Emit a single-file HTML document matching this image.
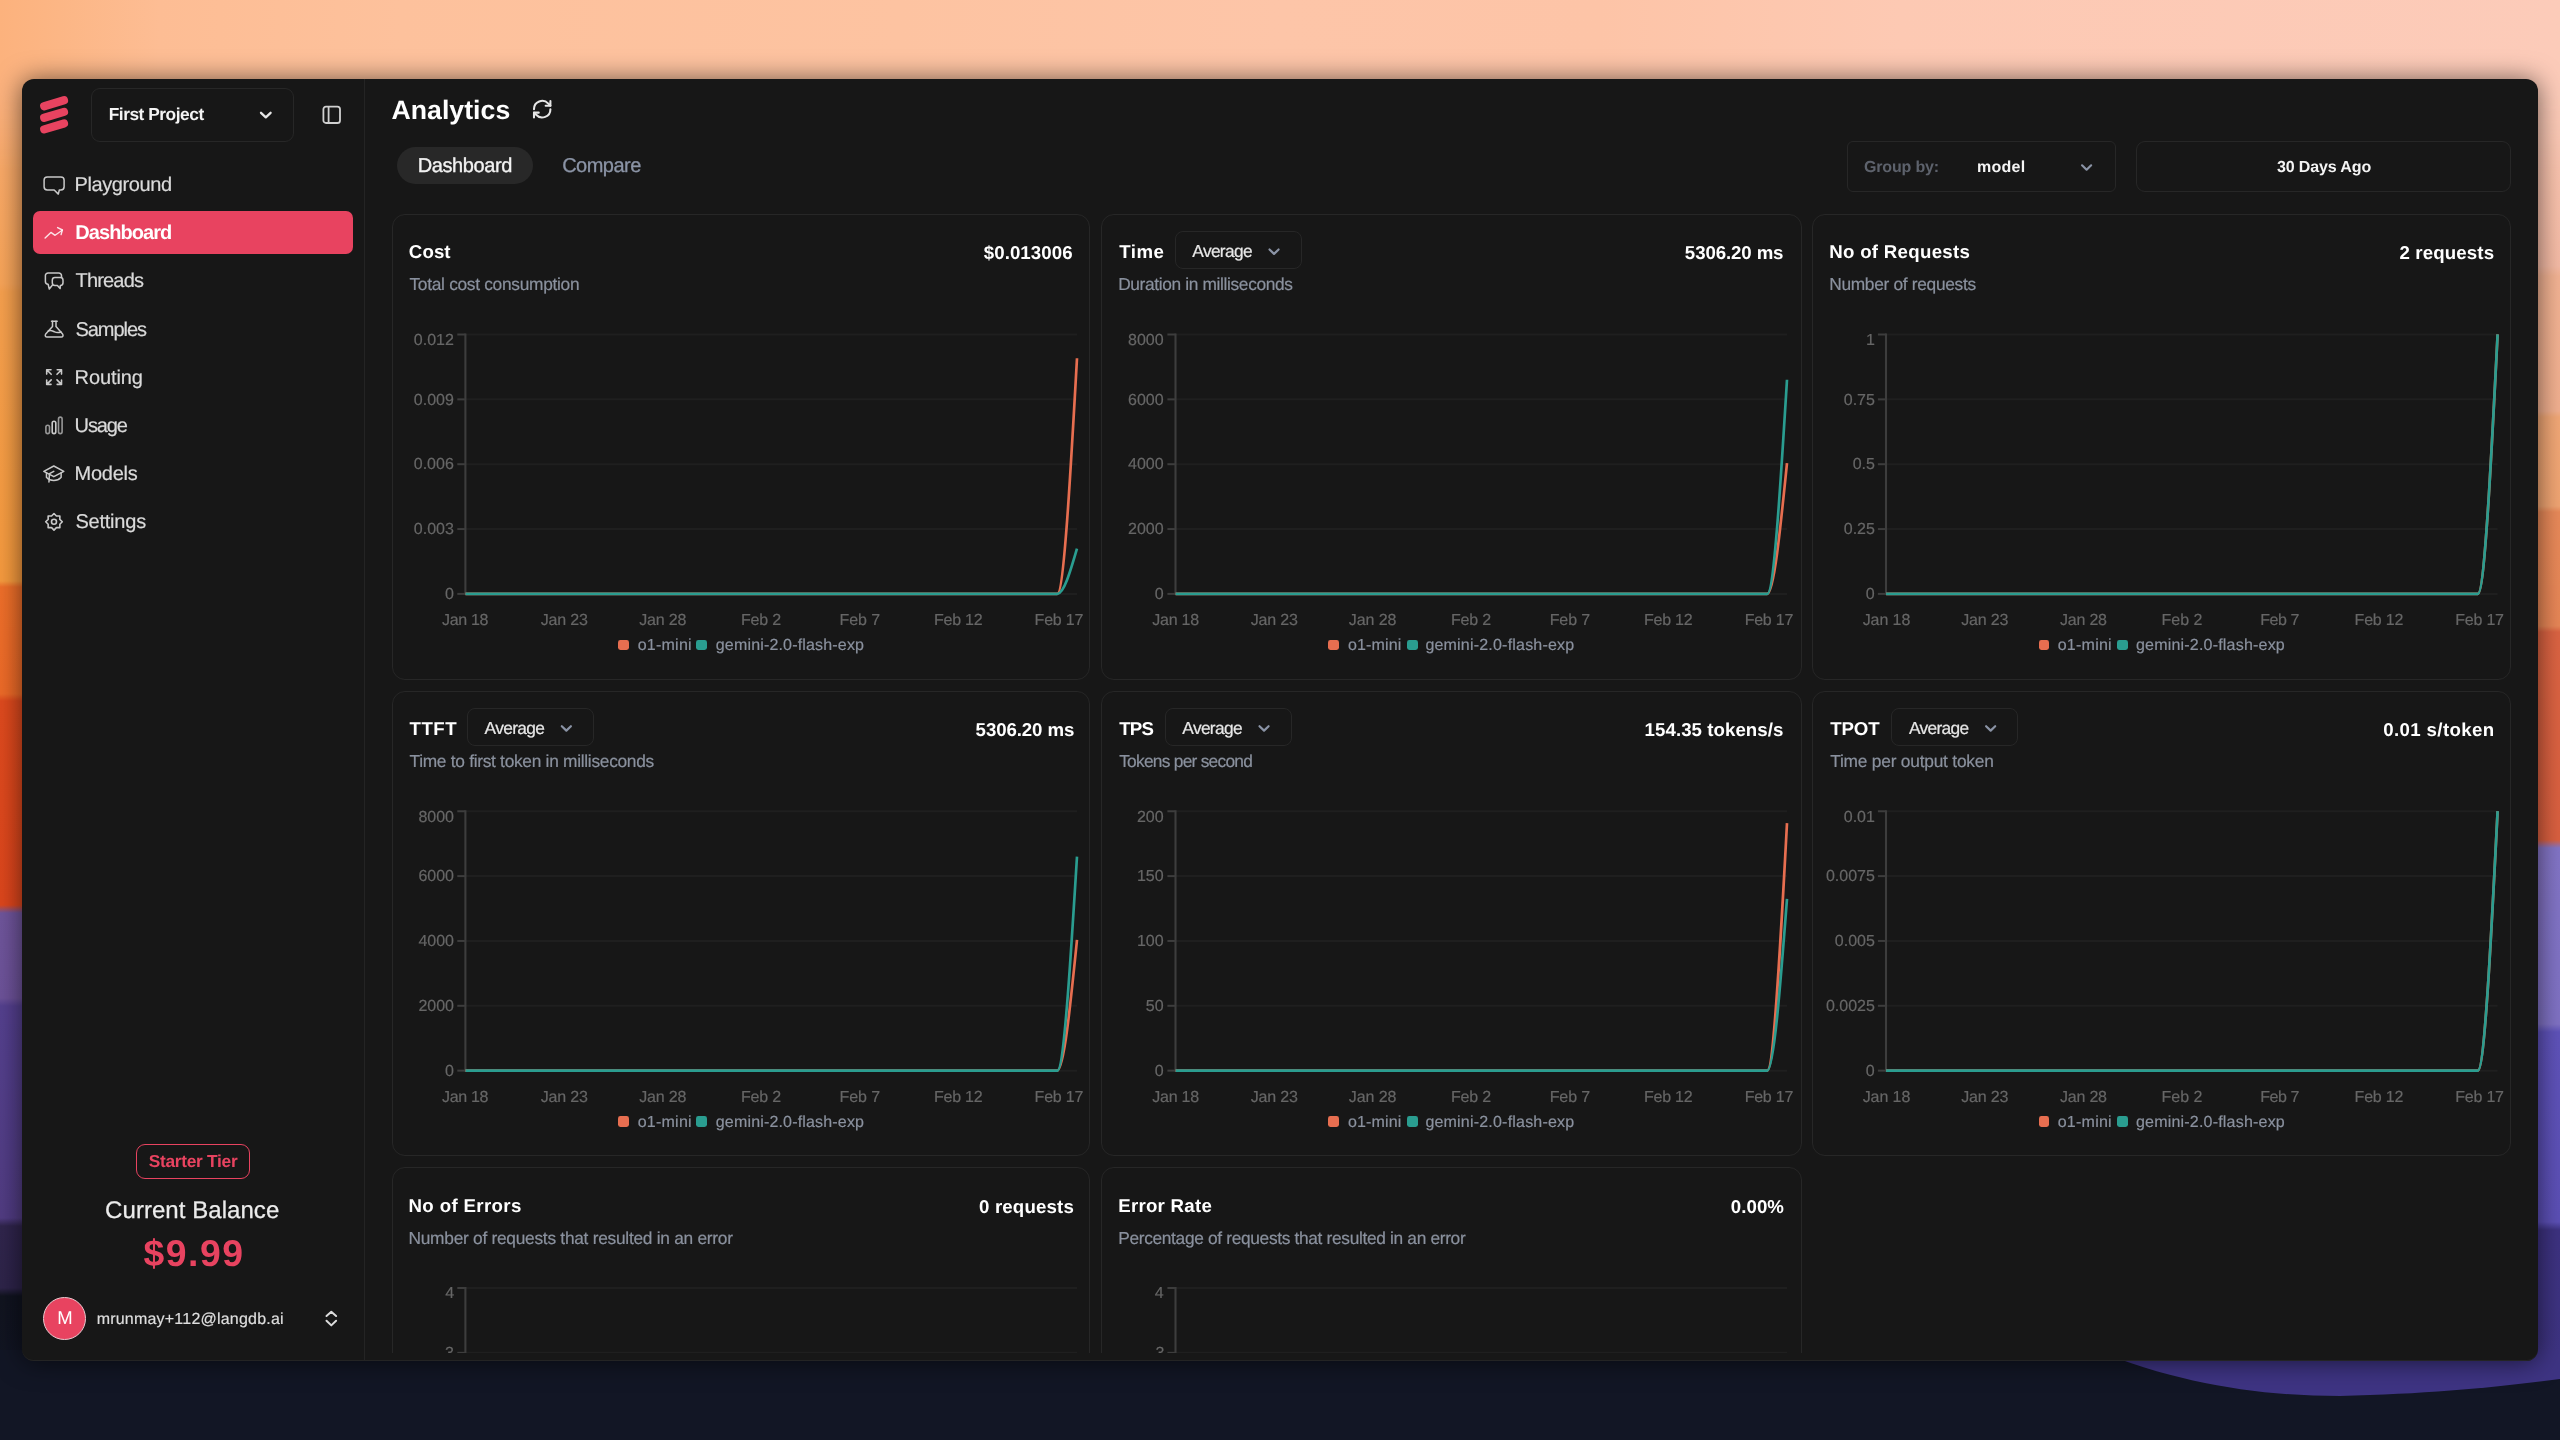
<!DOCTYPE html>
<html lang="en"><head><meta charset="utf-8"><title>Analytics</title>
<style>
html,body{margin:0;padding:0;}
body{width:2560px;height:1440px;overflow:hidden;position:relative;background:#11141f;font-family:"Liberation Sans", sans-serif;}
.wall{position:absolute;left:0;top:0;}
.win{position:absolute;left:22px;top:79px;width:2516px;height:1281.5px;background:#171717;border-radius:12px;
  box-shadow:0 1px 26px 0 rgba(0,0,0,0.58);}
.winb{position:absolute;left:22px;top:79px;width:2516px;height:1281.5px;border-radius:12px;box-sizing:border-box;border-bottom:1px solid #242424;pointer-events:none;}
.sidebar-line{position:absolute;left:363.6px;top:79px;width:1.3px;height:1281px;background:#242424;}
.t{position:absolute;white-space:nowrap;font-family:"Liberation Sans", sans-serif;text-rendering:geometricPrecision;}
aside,header,main{will-change:transform;}
.ic{position:absolute;overflow:visible;}
.box{position:absolute;box-sizing:border-box;border:1.3px solid #272727;}
.card{position:absolute;box-sizing:border-box;border:1.3px solid #272727;border-radius:13px;}
.navact{position:absolute;background:#e84360;border-radius:7px;}
.tabact{position:absolute;background:#282828;border-radius:19px;}
.badge{position:absolute;box-sizing:border-box;border:1.4px solid #e84360;border-radius:9px;}
.avatar{position:absolute;box-sizing:border-box;background:#e84360;border:1.4px solid #e9c9cf;border-radius:50%;}
.lg{position:absolute;width:10.8px;height:10.8px;border-radius:2.4px;}
.clip{position:absolute;left:0;top:0;width:2560px;height:1353.4px;overflow:hidden;}
</style></head>
<body>
<svg class="wall" width="2560" height="1440" viewBox="0 0 2560 1440">
<defs>
<linearGradient id="gL" x1="0" y1="0" x2="0" y2="1"><stop offset="0.0000" stop-color="#fcb280"/><stop offset="0.0417" stop-color="#fbae76"/><stop offset="0.1972" stop-color="#f7a458"/><stop offset="0.2028" stop-color="#f6a04e"/><stop offset="0.4035" stop-color="#f59a3e"/><stop offset="0.4076" stop-color="#ee6f2a"/><stop offset="0.4819" stop-color="#ec6a28"/><stop offset="0.4868" stop-color="#de4a1e"/><stop offset="0.6285" stop-color="#dc461c"/><stop offset="0.6340" stop-color="#6f559b"/><stop offset="0.6931" stop-color="#6c5298"/><stop offset="0.6986" stop-color="#54408e"/><stop offset="0.8458" stop-color="#513c82"/><stop offset="0.8514" stop-color="#30254c"/><stop offset="0.8944" stop-color="#2e2449"/><stop offset="0.9000" stop-color="#11141f"/><stop offset="1.0000" stop-color="#121625"/></linearGradient>
<linearGradient id="gR" x1="0" y1="0" x2="0" y2="1"><stop offset="0.0000" stop-color="#fccab6"/><stop offset="0.0833" stop-color="#fbc7b2"/><stop offset="0.1847" stop-color="#f5bba6"/><stop offset="0.1917" stop-color="#f3b394"/><stop offset="0.2854" stop-color="#f2b090"/><stop offset="0.2896" stop-color="#f2a877"/><stop offset="0.3514" stop-color="#f1a573"/><stop offset="0.3556" stop-color="#e98a5a"/><stop offset="0.4347" stop-color="#e88757"/><stop offset="0.4389" stop-color="#dc6443"/><stop offset="0.5833" stop-color="#da6040"/><stop offset="0.5889" stop-color="#8375c7"/><stop offset="0.7111" stop-color="#8072c4"/><stop offset="0.7167" stop-color="#5f53ba"/><stop offset="0.8486" stop-color="#5c50b6"/><stop offset="0.8542" stop-color="#3d3281"/><stop offset="0.9556" stop-color="#3e3483"/><stop offset="0.9611" stop-color="#131827"/><stop offset="1.0000" stop-color="#131827"/></linearGradient>
<linearGradient id="gM" x1="0" y1="0" x2="1" y2="0"><stop offset="0" stop-color="#fff" stop-opacity="0"/><stop offset="1" stop-color="#fff" stop-opacity="1"/></linearGradient>
<mask id="mk"><rect width="2560" height="1440" fill="url(#gM)"/></mask>
<linearGradient id="gT" x1="0" y1="0" x2="1" y2="0"><stop offset="0.0000" stop-color="#fcb27d"/><stop offset="0.0234" stop-color="#fcb685"/><stop offset="0.0625" stop-color="#fdbd94"/><stop offset="0.1562" stop-color="#fdc19c"/><stop offset="0.3516" stop-color="#fdc3a1"/><stop offset="0.5000" stop-color="#fdc5a8"/><stop offset="0.6250" stop-color="#fdc4a7"/><stop offset="0.7422" stop-color="#fdc9b3"/><stop offset="1.0000" stop-color="#fccbb9"/></linearGradient>
<linearGradient id="gTm" x1="0" y1="0" x2="0" y2="1"><stop offset="0" stop-color="#fff" stop-opacity="1"/><stop offset="0.55" stop-color="#fff" stop-opacity="1"/><stop offset="1" stop-color="#fff" stop-opacity="0"/></linearGradient>
<mask id="mt"><rect width="2560" height="170" fill="url(#gTm)"/></mask>
</defs>
<rect width="2560" height="1440" fill="url(#gL)"/>
<rect width="2560" height="1440" fill="url(#gR)" mask="url(#mk)"/>
<rect width="2560" height="170" fill="url(#gT)" mask="url(#mt)"/>
<rect x="0" y="1350" width="2560" height="90" fill="#121625"/>
<path d="M2095,1350 C2180,1384 2260,1396 2340,1396 C2430,1394 2500,1387 2560,1379 L2560,1350 Z" fill="#3e3483"/>
</svg>
<div class="win"></div><div class="winb"></div>
<div class="sidebar-line"></div>
<aside><svg class="ic" style="left:0;top:0" width="120" height="160" stroke="#e84360" stroke-width="8.2" stroke-linecap="round"><line x1="44.2" y1="106.2" x2="64" y2="100.3"/><line x1="44.2" y1="117.8" x2="64" y2="111.9"/><line x1="44.2" y1="129.4" x2="64" y2="123.5"/></svg>
<div class="box" style="left:91.35px;top:87.55px;width:202.6px;height:54.1px;border-radius:9px"></div>
<span class="t" style="left:108.70px;top:106px;font-size:17.33px;line-height:17.33px;color:#f4f4f4;font-weight:bold;letter-spacing:-0.470px;">First Project</span>
<svg class="ic" style="left:0;top:0" width="2560" height="1440" fill="none" stroke="#e6e6e6" stroke-width="2.3" stroke-linecap="round" stroke-linejoin="round"><path d="M261.00 112.80 L265.80 117.30 L270.60 112.80"/></svg>
<svg class="ic" style="left:321px;top:104px" width="22" height="22" fill="none" stroke="#d0d0d0" stroke-width="1.8"><rect x="2.4" y="2.6" width="16.6" height="16.4" rx="2.6"/><line x1="7.6" y1="2.6" x2="7.6" y2="19"/></svg>
<div class="navact" style="left:32.5px;top:211px;width:320px;height:43.3px"></div>
<span class="t" style="left:74.60px;top:175px;font-size:20px;line-height:20px;color:#dadada;letter-spacing:-0.407px;-webkit-text-stroke:0.2px #dadada;">Playground</span>
<svg class="ic" style="left:0;top:0" width="400" height="600" fill="none" stroke="#c9c9c9" stroke-width="1.5" stroke-linecap="round" stroke-linejoin="round"><path d="M47.3 176.9 H60.9 A3.2 3.2 0 0 1 64.1 180.1 V186.8 A3.2 3.2 0 0 1 60.9 190 H59.3 L58.3 194.1 L54.2 190 H47.3 A3.2 3.2 0 0 1 44.1 186.8 V180.1 A3.2 3.2 0 0 1 47.3 176.9 Z"/></svg>
<span class="t" style="left:75.30px;top:223px;font-size:20px;line-height:20px;color:#ffffff;font-weight:bold;letter-spacing:-0.931px;">Dashboard</span>
<svg class="ic" style="left:0;top:0" width="400" height="600" fill="none" stroke="#ffffff" stroke-width="1.4" stroke-linecap="round" stroke-linejoin="round"><g stroke-opacity="0.85"><path d="M45.1 238 L50.9 232.4 L55.1 235.3 L62.2 230.2"/><path d="M57.6 227.6 L62.4 230 L61.1 234.6"/></g></svg>
<span class="t" style="left:75.49px;top:271px;font-size:20px;line-height:20px;color:#dadada;letter-spacing:-0.817px;-webkit-text-stroke:0.2px #dadada;">Threads</span>
<svg class="ic" style="left:0;top:0" width="400" height="600" fill="none" stroke="#c9c9c9" stroke-width="1.5" stroke-linecap="round" stroke-linejoin="round"><path d="M61.5 277.2 V275.6 A2.7 2.7 0 0 0 58.8 272.9 H48.1 A2.7 2.7 0 0 0 45.4 275.6 V281.6 A2.7 2.7 0 0 0 48.1 284.3 L49.3 289 L52.5 285"/><path d="M54.9 277.6 H60.4 A2.6 2.6 0 0 1 63 280.2 V282.8 A2.6 2.6 0 0 1 60.4 285.4 L60.1 288.6 L57.4 285.4 H54.9 A2.6 2.6 0 0 1 52.3 282.8 V280.2 A2.6 2.6 0 0 1 54.9 277.6 Z"/></svg>
<span class="t" style="left:75.43px;top:320px;font-size:20px;line-height:20px;color:#dadada;letter-spacing:-1.040px;-webkit-text-stroke:0.2px #dadada;">Samples</span>
<svg class="ic" style="left:0;top:0" width="400" height="600" fill="none" stroke="#c9c9c9" stroke-width="1.5" stroke-linecap="round" stroke-linejoin="round"><path d="M51.5 321.2 H57.2"/><path d="M52.5 321.2 V326.5 L45.7 334.1 C44.7 335.4 45.5 337.1 47 337.1 H61.3 C62.800 337.100 63.600 335.400 62.600 334.100 L56 326.500 V321.200"/><path d="M48.3 331 C50.600 329.700 52.600 331 54.600 331.900 S58.700 332.700 61.100 332"/></svg>
<span class="t" style="left:74.60px;top:368px;font-size:20px;line-height:20px;color:#dadada;letter-spacing:-0.102px;-webkit-text-stroke:0.2px #dadada;">Routing</span>
<svg class="ic" style="left:0;top:0" width="400" height="600" fill="none" stroke="#c9c9c9" stroke-width="1.6" stroke-linecap="round" stroke-linejoin="round"><path d="M51.0 369.8 H46.7 V374.1 M46.7 369.8 L51.2 374.3"/><path d="M46.7 369.8 L48.6 369.8 L46.7 371.7 Z" fill="#c9c9c9" stroke="none"/><path d="M57.2 369.8 H61.5 V374.1 M61.5 369.8 L57.0 374.3"/><path d="M61.5 369.8 L59.6 369.8 L61.5 371.7 Z" fill="#c9c9c9" stroke="none"/><path d="M51.0 384.4 H46.7 V380.1 M46.7 384.4 L51.2 379.9"/><path d="M46.7 384.4 L48.6 384.4 L46.7 382.5 Z" fill="#c9c9c9" stroke="none"/><path d="M57.2 384.4 H61.5 V380.1 M61.5 384.4 L57.0 379.9"/><path d="M61.5 384.4 L59.6 384.4 L61.5 382.5 Z" fill="#c9c9c9" stroke="none"/></svg>
<span class="t" style="left:74.60px;top:416px;font-size:20px;line-height:20px;color:#dadada;letter-spacing:-1.162px;-webkit-text-stroke:0.2px #dadada;">Usage</span>
<svg class="ic" style="left:0;top:0" width="400" height="600" fill="none" stroke="#c9c9c9" stroke-width="1.6" stroke-linecap="round" stroke-linejoin="round"><rect x="45.9" y="425.2" width="3.600" height="8.4" rx="1.800" stroke-opacity="0.72"/><rect x="52.2" y="421.2" width="3.600" height="12.4" rx="1.800" stroke-opacity="1.0"/><rect x="58.5" y="417.1" width="3.600" height="16.5" rx="1.800" stroke-opacity="0.72"/></svg>
<span class="t" style="left:74.60px;top:464px;font-size:20px;line-height:20px;color:#dadada;letter-spacing:-0.281px;-webkit-text-stroke:0.2px #dadada;">Models</span>
<svg class="ic" style="left:0;top:0" width="400" height="600" fill="none" stroke="#c9c9c9" stroke-width="1.5" stroke-linecap="round" stroke-linejoin="round"><g transform="translate(43.13 463.3) scale(0.08333)" stroke-width="18"><polygon points="8 96 128 32 248 96 128 160 8 96"/><polyline points="128 96 76 124 70 224"/><path d="M216 113v53a8 8 0 0 1-2 5.300c-11.300 12.600-38.900 36.400-86 36.400s-74.700-23.800-86-36.400a8 8 0 0 1-2-5.300v-53"/></g></svg>
<span class="t" style="left:75.43px;top:512px;font-size:20px;line-height:20px;color:#dadada;letter-spacing:-0.222px;-webkit-text-stroke:0.2px #dadada;">Settings</span>
<svg class="ic" style="left:0;top:0" width="400" height="600" fill="none" stroke="#c9c9c9" stroke-width="1.6" stroke-linecap="round" stroke-linejoin="round"><path d="M54.00 513.50 L56.41 515.98 L59.87 515.93 L59.82 519.39 L62.30 521.80 L59.82 524.21 L59.87 527.67 L56.41 527.62 L54.00 530.10 L51.59 527.62 L48.13 527.67 L48.18 524.21 L45.70 521.80 L48.18 519.39 L48.13 515.93 L51.59 515.98Z" stroke-linejoin="round"/><circle cx="54" cy="521.8" r="2.500"/></svg>
<div class="badge" style="left:135.6px;top:1144.2px;width:114.4px;height:34.9px"></div>
<span class="t" style="left:148.70px;top:1153px;font-size:17.33px;line-height:17.33px;color:#e84360;font-weight:bold;letter-spacing:-0.288px;">Starter Tier</span>
<span class="t" style="left:105.10px;top:1199px;font-size:24px;line-height:24px;color:#ececec;letter-spacing:0.052px;-webkit-text-stroke:0.25px #ececec;">Current Balance</span>
<span class="t" style="left:143.44px;top:1235px;font-size:37.33px;line-height:37.33px;color:#e84360;font-weight:bold;letter-spacing:1.519px;">$9.99</span>
<div class="avatar" style="left:43.3px;top:1297px;width:42.8px;height:42.8px"></div>
<span class="t" style="left:57.37px;top:1309px;font-size:18.5px;line-height:18.5px;color:#fff;">M</span>
<span class="t" style="left:96.70px;top:1312px;font-size:16px;line-height:16px;color:#dedede;letter-spacing:0.207px;-webkit-text-stroke:0.2px #dedede;">mrunmay+112@langdb.ai</span>
<svg class="ic" style="left:0;top:0" width="2560" height="1440" fill="none" stroke="#dcdcdc" stroke-width="2.0" stroke-linecap="round" stroke-linejoin="round"><path d="M326.50 1316.00 L331.30 1311.80 L336.10 1316.00"/></svg>
<svg class="ic" style="left:0;top:0" width="2560" height="1440" fill="none" stroke="#dcdcdc" stroke-width="2.0" stroke-linecap="round" stroke-linejoin="round"><path d="M326.50 1320.80 L331.30 1325.40 L336.10 1320.80"/></svg></aside>
<header><span class="t" style="left:391.44px;top:97px;font-size:26.67px;line-height:26.67px;color:#ffffff;font-weight:bold;letter-spacing:0.034px;">Analytics</span>
<svg class="ic" style="left:531.2px;top:98.4px" width="22.4" height="22.4" viewBox="0 0 24 24" fill="none" stroke="#e6e6e6" stroke-width="2.2" stroke-linecap="round" stroke-linejoin="round"><path d="M3.200 12a8.800 8.800 0 0 1 15.300-6l2.300 2.300"/><path d="M20.800 3.200v5.100h-5.100"/><path d="M20.800 12a8.800 8.800 0 0 1-15.300 6l-2.300-2.300"/><path d="M3.200 20.800v-5.100h5.100"/></svg>
<div class="tabact" style="left:396.9px;top:146.9px;width:136.1px;height:37.5px"></div>
<span class="t" style="left:417.75px;top:156px;font-size:20px;line-height:20px;color:#f2f2f2;letter-spacing:-0.402px;-webkit-text-stroke:0.35px #f2f2f2;">Dashboard</span>
<span class="t" style="left:562.20px;top:156px;font-size:20px;line-height:20px;color:#8b94a6;letter-spacing:-0.522px;-webkit-text-stroke:0.3px #8b94a6;">Compare</span>
<div class="box" style="left:1846.85px;top:141.25px;width:268.8px;height:50.9px;border-radius:6px"></div>
<span class="t" style="left:1864.00px;top:160px;font-size:16px;line-height:16px;color:#5d626c;font-weight:bold;letter-spacing:-0.157px;">Group by:</span>
<span class="t" style="left:1977.10px;top:160px;font-size:16px;line-height:16px;color:#f4f4f4;font-weight:bold;letter-spacing:0.232px;">model</span>
<svg class="ic" style="left:0;top:0" width="2560" height="1440" fill="none" stroke="#8a93a5" stroke-width="2.2" stroke-linecap="round" stroke-linejoin="round"><path d="M2082.05 165.30 L2086.60 169.70 L2091.15 165.30"/></svg>
<div class="box" style="left:2135.6px;top:141.25px;width:375.55px;height:50.9px;border-radius:9px"></div>
<span class="t" style="left:2276.90px;top:160px;font-size:16px;line-height:16px;color:#f4f4f4;font-weight:bold;letter-spacing:-0.115px;">30 Days Ago</span></header>
<main class="clip"><div class="card" style="left:391.55px;top:213.85px;width:698.90px;height:465.8px"></div>
<span class="t" style="left:408.87px;top:243px;font-size:18.67px;line-height:18.67px;color:#ffffff;font-weight:bold;letter-spacing:0.085px;">Cost</span>
<span class="t" style="left:983.77px;top:244px;font-size:18.67px;line-height:18.67px;color:#ffffff;font-weight:bold;letter-spacing:0.073px;">$0.013006</span>
<span class="t" style="left:409.50px;top:276px;font-size:17.33px;line-height:17.33px;color:#8a919e;letter-spacing:-0.296px;-webkit-text-stroke:0.2px #8a919e;">Total cost consumption</span>
<svg class="ic" style="left:0;top:0" width="2560" height="1440"><line x1="465.50" y1="334.50" x2="1077.00" y2="334.50" stroke="#1f1f1f" stroke-width="2"/><line x1="457.30" y1="334.50" x2="465.50" y2="334.50" stroke="#3d3d3d" stroke-width="2"/><line x1="465.50" y1="399.35" x2="1077.00" y2="399.35" stroke="#1f1f1f" stroke-width="2"/><line x1="457.30" y1="399.35" x2="465.50" y2="399.35" stroke="#3d3d3d" stroke-width="2"/><line x1="465.50" y1="464.20" x2="1077.00" y2="464.20" stroke="#1f1f1f" stroke-width="2"/><line x1="457.30" y1="464.20" x2="465.50" y2="464.20" stroke="#3d3d3d" stroke-width="2"/><line x1="465.50" y1="529.05" x2="1077.00" y2="529.05" stroke="#1f1f1f" stroke-width="2"/><line x1="457.30" y1="529.05" x2="465.50" y2="529.05" stroke="#3d3d3d" stroke-width="2"/><line x1="465.50" y1="593.90" x2="1077.00" y2="593.90" stroke="#1f1f1f" stroke-width="2"/><line x1="457.30" y1="593.90" x2="465.50" y2="593.90" stroke="#3d3d3d" stroke-width="2"/><line x1="465.40" y1="333.50" x2="465.40" y2="594.90" stroke="#3d3d3d" stroke-width="2.1"/><path d="M465.50 593.80 L1057.27 593.80 C1063.85 593.80 1070.42 476.03 1077.00 358.26" fill="none" stroke="#e76e50" stroke-width="2.67" stroke-linejoin="round"/><path d="M465.50 593.80 L1057.27 593.80 C1063.85 593.80 1070.42 571.17 1077.00 548.53" fill="none" stroke="#2a9d90" stroke-width="2.67" stroke-linejoin="round"/></svg>
<span class="t tick" style="left:413.83px;top:333px;font-size:16px;line-height:16px;color:#666666;-webkit-text-stroke:0.2px #666666;">0.012</span>
<span class="t tick" style="left:413.83px;top:393px;font-size:16px;line-height:16px;color:#666666;-webkit-text-stroke:0.2px #666666;">0.009</span>
<span class="t tick" style="left:413.78px;top:457px;font-size:16px;line-height:16px;color:#666666;-webkit-text-stroke:0.2px #666666;">0.006</span>
<span class="t tick" style="left:413.82px;top:522px;font-size:16px;line-height:16px;color:#666666;-webkit-text-stroke:0.2px #666666;">0.003</span>
<span class="t tick" style="left:445.07px;top:587px;font-size:16px;line-height:16px;color:#666666;-webkit-text-stroke:0.2px #666666;">0</span>
<span class="t tick" style="left:442.10px;top:613px;font-size:16px;line-height:16px;color:#666666;letter-spacing:-0.348px;-webkit-text-stroke:0.2px #666666;">Jan 18</span>
<span class="t tick" style="left:540.68px;top:613px;font-size:16px;line-height:16px;color:#666666;letter-spacing:-0.184px;-webkit-text-stroke:0.2px #666666;">Jan 23</span>
<span class="t tick" style="left:639.31px;top:613px;font-size:16px;line-height:16px;color:#666666;letter-spacing:-0.186px;-webkit-text-stroke:0.2px #666666;">Jan 28</span>
<span class="t tick" style="left:740.89px;top:613px;font-size:16px;line-height:16px;color:#666666;letter-spacing:-0.167px;-webkit-text-stroke:0.2px #666666;">Feb 2</span>
<span class="t tick" style="left:839.62px;top:613px;font-size:16px;line-height:16px;color:#666666;letter-spacing:-0.089px;-webkit-text-stroke:0.2px #666666;">Feb 7</span>
<span class="t tick" style="left:934.00px;top:613px;font-size:16px;line-height:16px;color:#666666;letter-spacing:-0.223px;-webkit-text-stroke:0.2px #666666;">Feb 12</span>
<span class="t tick" style="left:1034.62px;top:613px;font-size:16px;line-height:16px;color:#666666;letter-spacing:-0.217px;-webkit-text-stroke:0.2px #666666;">Feb 17</span>
<div class="lg" style="left:618.0px;top:639.6px;background:#e76e50"></div>
<span class="t" style="left:637.70px;top:638px;font-size:16px;line-height:16px;color:#8a919e;letter-spacing:0.241px;-webkit-text-stroke:0.2px #8a919e;">o1-mini</span>
<div class="lg" style="left:696.4px;top:639.6px;background:#2a9d90"></div>
<span class="t" style="left:715.80px;top:638px;font-size:16px;line-height:16px;color:#8a919e;letter-spacing:0.168px;-webkit-text-stroke:0.2px #8a919e;">gemini-2.0-flash-exp</span>
<div class="card" style="left:1101.25px;top:213.85px;width:700.30px;height:465.8px"></div>
<span class="t" style="left:1119.20px;top:243px;font-size:18.67px;line-height:18.67px;color:#ffffff;font-weight:bold;letter-spacing:0.523px;">Time</span>
<span class="t" style="left:1684.86px;top:244px;font-size:18.67px;line-height:18.67px;color:#ffffff;font-weight:bold;letter-spacing:-0.105px;">5306.20 ms</span>
<span class="t" style="left:1118.20px;top:276px;font-size:17.33px;line-height:17.33px;color:#8a919e;letter-spacing:-0.357px;-webkit-text-stroke:0.2px #8a919e;">Duration in milliseconds</span>
<div class="box" style="left:1174.7px;top:230.7px;width:127.2px;height:38.2px;border-radius:8px"></div>
<span class="t" style="left:1192.30px;top:243px;font-size:17.33px;line-height:17.33px;color:#e8e8e8;letter-spacing:-0.665px;-webkit-text-stroke:0.2px #e8e8e8;">Average</span>
<svg class="ic" style="left:0;top:0" width="2560" height="1440" fill="none" stroke="#8a93a5" stroke-width="2.2" stroke-linecap="round" stroke-linejoin="round"><path d="M1269.50 249.50 L1274.05 253.90 L1278.60 249.50"/></svg>
<svg class="ic" style="left:0;top:0" width="2560" height="1440"><line x1="1175.60" y1="334.50" x2="1787.00" y2="334.50" stroke="#1f1f1f" stroke-width="2"/><line x1="1167.40" y1="334.50" x2="1175.60" y2="334.50" stroke="#3d3d3d" stroke-width="2"/><line x1="1175.60" y1="399.35" x2="1787.00" y2="399.35" stroke="#1f1f1f" stroke-width="2"/><line x1="1167.40" y1="399.35" x2="1175.60" y2="399.35" stroke="#3d3d3d" stroke-width="2"/><line x1="1175.60" y1="464.20" x2="1787.00" y2="464.20" stroke="#1f1f1f" stroke-width="2"/><line x1="1167.40" y1="464.20" x2="1175.60" y2="464.20" stroke="#3d3d3d" stroke-width="2"/><line x1="1175.60" y1="529.05" x2="1787.00" y2="529.05" stroke="#1f1f1f" stroke-width="2"/><line x1="1167.40" y1="529.05" x2="1175.60" y2="529.05" stroke="#3d3d3d" stroke-width="2"/><line x1="1175.60" y1="593.90" x2="1787.00" y2="593.90" stroke="#1f1f1f" stroke-width="2"/><line x1="1167.40" y1="593.90" x2="1175.60" y2="593.90" stroke="#3d3d3d" stroke-width="2"/><line x1="1175.50" y1="333.50" x2="1175.50" y2="594.90" stroke="#3d3d3d" stroke-width="2.1"/><path d="M1175.60 593.80 L1767.28 593.80 C1773.85 593.80 1780.43 528.50 1787.00 463.19" fill="none" stroke="#e76e50" stroke-width="2.67" stroke-linejoin="round"/><path d="M1175.60 593.80 L1767.28 593.80 C1773.85 593.80 1780.43 486.80 1787.00 379.79" fill="none" stroke="#2a9d90" stroke-width="2.67" stroke-linejoin="round"/></svg>
<span class="t tick" style="left:1128.06px;top:333px;font-size:16px;line-height:16px;color:#666666;-webkit-text-stroke:0.2px #666666;">8000</span>
<span class="t tick" style="left:1128.06px;top:393px;font-size:16px;line-height:16px;color:#666666;-webkit-text-stroke:0.2px #666666;">6000</span>
<span class="t tick" style="left:1128.06px;top:457px;font-size:16px;line-height:16px;color:#666666;-webkit-text-stroke:0.2px #666666;">4000</span>
<span class="t tick" style="left:1128.06px;top:522px;font-size:16px;line-height:16px;color:#666666;-webkit-text-stroke:0.2px #666666;">2000</span>
<span class="t tick" style="left:1154.76px;top:587px;font-size:16px;line-height:16px;color:#666666;-webkit-text-stroke:0.2px #666666;">0</span>
<span class="t tick" style="left:1152.20px;top:613px;font-size:16px;line-height:16px;color:#666666;letter-spacing:-0.209px;-webkit-text-stroke:0.2px #666666;">Jan 18</span>
<span class="t tick" style="left:1250.76px;top:613px;font-size:16px;line-height:16px;color:#666666;letter-spacing:-0.184px;-webkit-text-stroke:0.2px #666666;">Jan 23</span>
<span class="t tick" style="left:1348.71px;top:613px;font-size:16px;line-height:16px;color:#666666;letter-spacing:-0.051px;-webkit-text-stroke:0.2px #666666;">Jan 28</span>
<span class="t tick" style="left:1450.94px;top:613px;font-size:16px;line-height:16px;color:#666666;letter-spacing:-0.167px;-webkit-text-stroke:0.2px #666666;">Feb 2</span>
<span class="t tick" style="left:1549.65px;top:613px;font-size:16px;line-height:16px;color:#666666;letter-spacing:-0.084px;-webkit-text-stroke:0.2px #666666;">Feb 7</span>
<span class="t tick" style="left:1644.01px;top:613px;font-size:16px;line-height:16px;color:#666666;letter-spacing:-0.223px;-webkit-text-stroke:0.2px #666666;">Feb 12</span>
<span class="t tick" style="left:1744.63px;top:613px;font-size:16px;line-height:16px;color:#666666;letter-spacing:-0.214px;-webkit-text-stroke:0.2px #666666;">Feb 17</span>
<div class="lg" style="left:1328.4px;top:639.6px;background:#e76e50"></div>
<span class="t" style="left:1348.10px;top:638px;font-size:16px;line-height:16px;color:#8a919e;letter-spacing:0.116px;-webkit-text-stroke:0.2px #8a919e;">o1-mini</span>
<div class="lg" style="left:1406.8px;top:639.6px;background:#2a9d90"></div>
<span class="t" style="left:1425.40px;top:638px;font-size:16px;line-height:16px;color:#8a919e;letter-spacing:0.201px;-webkit-text-stroke:0.2px #8a919e;">gemini-2.0-flash-exp</span>
<div class="card" style="left:1812.25px;top:213.85px;width:698.90px;height:465.8px"></div>
<span class="t" style="left:1829.20px;top:243px;font-size:18.67px;line-height:18.67px;color:#ffffff;font-weight:bold;letter-spacing:0.299px;">No of Requests</span>
<span class="t" style="left:2399.40px;top:244px;font-size:18.67px;line-height:18.67px;color:#ffffff;font-weight:bold;letter-spacing:0.148px;">2 requests</span>
<span class="t" style="left:1829.20px;top:276px;font-size:17.33px;line-height:17.33px;color:#8a919e;letter-spacing:-0.311px;-webkit-text-stroke:0.2px #8a919e;">Number of requests</span>
<svg class="ic" style="left:0;top:0" width="2560" height="1440"><line x1="1886.10" y1="334.50" x2="2497.60" y2="334.50" stroke="#1f1f1f" stroke-width="2"/><line x1="1877.90" y1="334.50" x2="1886.10" y2="334.50" stroke="#3d3d3d" stroke-width="2"/><line x1="1886.10" y1="399.35" x2="2497.60" y2="399.35" stroke="#1f1f1f" stroke-width="2"/><line x1="1877.90" y1="399.35" x2="1886.10" y2="399.35" stroke="#3d3d3d" stroke-width="2"/><line x1="1886.10" y1="464.20" x2="2497.60" y2="464.20" stroke="#1f1f1f" stroke-width="2"/><line x1="1877.90" y1="464.20" x2="1886.10" y2="464.20" stroke="#3d3d3d" stroke-width="2"/><line x1="1886.10" y1="529.05" x2="2497.60" y2="529.05" stroke="#1f1f1f" stroke-width="2"/><line x1="1877.90" y1="529.05" x2="1886.10" y2="529.05" stroke="#3d3d3d" stroke-width="2"/><line x1="1886.10" y1="593.90" x2="2497.60" y2="593.90" stroke="#1f1f1f" stroke-width="2"/><line x1="1877.90" y1="593.90" x2="1886.10" y2="593.90" stroke="#3d3d3d" stroke-width="2"/><line x1="1886.00" y1="333.50" x2="1886.00" y2="594.90" stroke="#3d3d3d" stroke-width="2.1"/><path d="M1886.10 593.80 L2477.87 593.80 C2484.45 593.80 2491.02 464.10 2497.60 334.40" fill="none" stroke="#e76e50" stroke-width="2.67" stroke-linejoin="round"/><path d="M1886.10 593.80 L2477.87 593.80 C2484.45 593.80 2491.02 464.10 2497.60 334.40" fill="none" stroke="#2a9d90" stroke-width="2.67" stroke-linejoin="round"/></svg>
<span class="t tick" style="left:1866.00px;top:333px;font-size:16px;line-height:16px;color:#666666;-webkit-text-stroke:0.2px #666666;">1</span>
<span class="t tick" style="left:1843.76px;top:393px;font-size:16px;line-height:16px;color:#666666;-webkit-text-stroke:0.2px #666666;">0.75</span>
<span class="t tick" style="left:1852.66px;top:457px;font-size:16px;line-height:16px;color:#666666;-webkit-text-stroke:0.2px #666666;">0.5</span>
<span class="t tick" style="left:1843.76px;top:522px;font-size:16px;line-height:16px;color:#666666;-webkit-text-stroke:0.2px #666666;">0.25</span>
<span class="t tick" style="left:1865.66px;top:587px;font-size:16px;line-height:16px;color:#666666;-webkit-text-stroke:0.2px #666666;">0</span>
<span class="t tick" style="left:1862.70px;top:613px;font-size:16px;line-height:16px;color:#666666;letter-spacing:-0.082px;-webkit-text-stroke:0.2px #666666;">Jan 18</span>
<span class="t tick" style="left:1961.28px;top:613px;font-size:16px;line-height:16px;color:#666666;letter-spacing:-0.186px;-webkit-text-stroke:0.2px #666666;">Jan 23</span>
<span class="t tick" style="left:2059.91px;top:613px;font-size:16px;line-height:16px;color:#666666;letter-spacing:-0.187px;-webkit-text-stroke:0.2px #666666;">Jan 28</span>
<span class="t tick" style="left:2161.49px;top:613px;font-size:16px;line-height:16px;color:#666666;letter-spacing:0.006px;-webkit-text-stroke:0.2px #666666;">Feb 2</span>
<span class="t tick" style="left:2260.22px;top:613px;font-size:16px;line-height:16px;color:#666666;letter-spacing:-0.404px;-webkit-text-stroke:0.2px #666666;">Feb 7</span>
<span class="t tick" style="left:2354.60px;top:613px;font-size:16px;line-height:16px;color:#666666;letter-spacing:-0.217px;-webkit-text-stroke:0.2px #666666;">Feb 12</span>
<span class="t tick" style="left:2455.22px;top:613px;font-size:16px;line-height:16px;color:#666666;letter-spacing:-0.208px;-webkit-text-stroke:0.2px #666666;">Feb 17</span>
<div class="lg" style="left:2038.7px;top:639.6px;background:#e76e50"></div>
<span class="t" style="left:2057.73px;top:638px;font-size:16px;line-height:16px;color:#8a919e;letter-spacing:0.241px;-webkit-text-stroke:0.2px #8a919e;">o1-mini</span>
<div class="lg" style="left:2117.1px;top:639.6px;background:#2a9d90"></div>
<span class="t" style="left:2135.94px;top:638px;font-size:16px;line-height:16px;color:#8a919e;letter-spacing:0.203px;-webkit-text-stroke:0.2px #8a919e;">gemini-2.0-flash-exp</span>
<div class="card" style="left:391.55px;top:690.60px;width:698.90px;height:465.8px"></div>
<span class="t" style="left:409.50px;top:720px;font-size:18.67px;line-height:18.67px;color:#ffffff;font-weight:bold;letter-spacing:0.491px;">TTFT</span>
<span class="t" style="left:975.60px;top:721px;font-size:18.67px;line-height:18.67px;color:#ffffff;font-weight:bold;letter-spacing:-0.089px;">5306.20 ms</span>
<span class="t" style="left:409.50px;top:753px;font-size:17.33px;line-height:17.33px;color:#8a919e;letter-spacing:-0.289px;-webkit-text-stroke:0.2px #8a919e;">Time to first token in milliseconds</span>
<div class="box" style="left:467.0px;top:707.5px;width:127.2px;height:38.2px;border-radius:8px"></div>
<span class="t" style="left:484.60px;top:720px;font-size:17.33px;line-height:17.33px;color:#e8e8e8;letter-spacing:-0.665px;-webkit-text-stroke:0.2px #e8e8e8;">Average</span>
<svg class="ic" style="left:0;top:0" width="2560" height="1440" fill="none" stroke="#8a93a5" stroke-width="2.2" stroke-linecap="round" stroke-linejoin="round"><path d="M561.80 726.25 L566.35 730.65 L570.90 726.25"/></svg>
<svg class="ic" style="left:0;top:0" width="2560" height="1440"><line x1="465.50" y1="811.25" x2="1077.00" y2="811.25" stroke="#1f1f1f" stroke-width="2"/><line x1="457.30" y1="811.25" x2="465.50" y2="811.25" stroke="#3d3d3d" stroke-width="2"/><line x1="465.50" y1="876.10" x2="1077.00" y2="876.10" stroke="#1f1f1f" stroke-width="2"/><line x1="457.30" y1="876.10" x2="465.50" y2="876.10" stroke="#3d3d3d" stroke-width="2"/><line x1="465.50" y1="940.95" x2="1077.00" y2="940.95" stroke="#1f1f1f" stroke-width="2"/><line x1="457.30" y1="940.95" x2="465.50" y2="940.95" stroke="#3d3d3d" stroke-width="2"/><line x1="465.50" y1="1005.80" x2="1077.00" y2="1005.80" stroke="#1f1f1f" stroke-width="2"/><line x1="457.30" y1="1005.80" x2="465.50" y2="1005.80" stroke="#3d3d3d" stroke-width="2"/><line x1="465.50" y1="1070.65" x2="1077.00" y2="1070.65" stroke="#1f1f1f" stroke-width="2"/><line x1="457.30" y1="1070.65" x2="465.50" y2="1070.65" stroke="#3d3d3d" stroke-width="2"/><line x1="465.40" y1="810.25" x2="465.40" y2="1071.65" stroke="#3d3d3d" stroke-width="2.1"/><path d="M465.50 1070.55 L1057.27 1070.55 C1063.85 1070.55 1070.42 1005.25 1077.00 939.94" fill="none" stroke="#e76e50" stroke-width="2.67" stroke-linejoin="round"/><path d="M465.50 1070.55 L1057.27 1070.55 C1063.85 1070.55 1070.42 963.55 1077.00 856.55" fill="none" stroke="#2a9d90" stroke-width="2.67" stroke-linejoin="round"/></svg>
<span class="t tick" style="left:418.38px;top:810px;font-size:16px;line-height:16px;color:#666666;-webkit-text-stroke:0.2px #666666;">8000</span>
<span class="t tick" style="left:418.38px;top:869px;font-size:16px;line-height:16px;color:#666666;-webkit-text-stroke:0.2px #666666;">6000</span>
<span class="t tick" style="left:418.38px;top:934px;font-size:16px;line-height:16px;color:#666666;-webkit-text-stroke:0.2px #666666;">4000</span>
<span class="t tick" style="left:418.38px;top:999px;font-size:16px;line-height:16px;color:#666666;-webkit-text-stroke:0.2px #666666;">2000</span>
<span class="t tick" style="left:445.07px;top:1064px;font-size:16px;line-height:16px;color:#666666;-webkit-text-stroke:0.2px #666666;">0</span>
<span class="t tick" style="left:442.10px;top:1090px;font-size:16px;line-height:16px;color:#666666;letter-spacing:-0.348px;-webkit-text-stroke:0.2px #666666;">Jan 18</span>
<span class="t tick" style="left:540.68px;top:1090px;font-size:16px;line-height:16px;color:#666666;letter-spacing:-0.184px;-webkit-text-stroke:0.2px #666666;">Jan 23</span>
<span class="t tick" style="left:639.31px;top:1090px;font-size:16px;line-height:16px;color:#666666;letter-spacing:-0.186px;-webkit-text-stroke:0.2px #666666;">Jan 28</span>
<span class="t tick" style="left:740.89px;top:1090px;font-size:16px;line-height:16px;color:#666666;letter-spacing:-0.167px;-webkit-text-stroke:0.2px #666666;">Feb 2</span>
<span class="t tick" style="left:839.62px;top:1090px;font-size:16px;line-height:16px;color:#666666;letter-spacing:-0.089px;-webkit-text-stroke:0.2px #666666;">Feb 7</span>
<span class="t tick" style="left:934.00px;top:1090px;font-size:16px;line-height:16px;color:#666666;letter-spacing:-0.223px;-webkit-text-stroke:0.2px #666666;">Feb 12</span>
<span class="t tick" style="left:1034.62px;top:1090px;font-size:16px;line-height:16px;color:#666666;letter-spacing:-0.217px;-webkit-text-stroke:0.2px #666666;">Feb 17</span>
<div class="lg" style="left:618.0px;top:1116.4px;background:#e76e50"></div>
<span class="t" style="left:637.70px;top:1115px;font-size:16px;line-height:16px;color:#8a919e;letter-spacing:0.241px;-webkit-text-stroke:0.2px #8a919e;">o1-mini</span>
<div class="lg" style="left:696.4px;top:1116.4px;background:#2a9d90"></div>
<span class="t" style="left:715.80px;top:1115px;font-size:16px;line-height:16px;color:#8a919e;letter-spacing:0.168px;-webkit-text-stroke:0.2px #8a919e;">gemini-2.0-flash-exp</span>
<div class="card" style="left:1101.25px;top:690.60px;width:700.30px;height:465.8px"></div>
<span class="t" style="left:1119.20px;top:720px;font-size:18.67px;line-height:18.67px;color:#ffffff;font-weight:bold;letter-spacing:-0.720px;">TPS</span>
<span class="t" style="left:1644.60px;top:721px;font-size:18.67px;line-height:18.67px;color:#ffffff;font-weight:bold;letter-spacing:0.060px;">154.35 tokens/s</span>
<span class="t" style="left:1119.20px;top:753px;font-size:17.33px;line-height:17.33px;color:#8a919e;letter-spacing:-0.738px;-webkit-text-stroke:0.2px #8a919e;">Tokens per second</span>
<div class="box" style="left:1164.7px;top:707.5px;width:127.2px;height:38.2px;border-radius:8px"></div>
<span class="t" style="left:1182.30px;top:720px;font-size:17.33px;line-height:17.33px;color:#e8e8e8;letter-spacing:-0.665px;-webkit-text-stroke:0.2px #e8e8e8;">Average</span>
<svg class="ic" style="left:0;top:0" width="2560" height="1440" fill="none" stroke="#8a93a5" stroke-width="2.2" stroke-linecap="round" stroke-linejoin="round"><path d="M1259.50 726.25 L1264.05 730.65 L1268.60 726.25"/></svg>
<svg class="ic" style="left:0;top:0" width="2560" height="1440"><line x1="1175.60" y1="811.25" x2="1787.00" y2="811.25" stroke="#1f1f1f" stroke-width="2"/><line x1="1167.40" y1="811.25" x2="1175.60" y2="811.25" stroke="#3d3d3d" stroke-width="2"/><line x1="1175.60" y1="876.10" x2="1787.00" y2="876.10" stroke="#1f1f1f" stroke-width="2"/><line x1="1167.40" y1="876.10" x2="1175.60" y2="876.10" stroke="#3d3d3d" stroke-width="2"/><line x1="1175.60" y1="940.95" x2="1787.00" y2="940.95" stroke="#1f1f1f" stroke-width="2"/><line x1="1167.40" y1="940.95" x2="1175.60" y2="940.95" stroke="#3d3d3d" stroke-width="2"/><line x1="1175.60" y1="1005.80" x2="1787.00" y2="1005.80" stroke="#1f1f1f" stroke-width="2"/><line x1="1167.40" y1="1005.80" x2="1175.60" y2="1005.80" stroke="#3d3d3d" stroke-width="2"/><line x1="1175.60" y1="1070.65" x2="1787.00" y2="1070.65" stroke="#1f1f1f" stroke-width="2"/><line x1="1167.40" y1="1070.65" x2="1175.60" y2="1070.65" stroke="#3d3d3d" stroke-width="2"/><line x1="1175.50" y1="810.25" x2="1175.50" y2="1071.65" stroke="#3d3d3d" stroke-width="2.1"/><path d="M1175.60 1070.55 L1767.28 1070.55 C1773.85 1070.55 1780.43 946.82 1787.00 823.08" fill="none" stroke="#e76e50" stroke-width="2.67" stroke-linejoin="round"/><path d="M1175.60 1070.55 L1767.28 1070.55 C1773.85 1070.55 1780.43 984.69 1787.00 898.83" fill="none" stroke="#2a9d90" stroke-width="2.67" stroke-linejoin="round"/></svg>
<span class="t tick" style="left:1136.96px;top:810px;font-size:16px;line-height:16px;color:#666666;-webkit-text-stroke:0.2px #666666;">200</span>
<span class="t tick" style="left:1136.96px;top:869px;font-size:16px;line-height:16px;color:#666666;-webkit-text-stroke:0.2px #666666;">150</span>
<span class="t tick" style="left:1136.96px;top:934px;font-size:16px;line-height:16px;color:#666666;-webkit-text-stroke:0.2px #666666;">100</span>
<span class="t tick" style="left:1145.86px;top:999px;font-size:16px;line-height:16px;color:#666666;-webkit-text-stroke:0.2px #666666;">50</span>
<span class="t tick" style="left:1154.76px;top:1064px;font-size:16px;line-height:16px;color:#666666;-webkit-text-stroke:0.2px #666666;">0</span>
<span class="t tick" style="left:1152.20px;top:1090px;font-size:16px;line-height:16px;color:#666666;letter-spacing:-0.209px;-webkit-text-stroke:0.2px #666666;">Jan 18</span>
<span class="t tick" style="left:1250.76px;top:1090px;font-size:16px;line-height:16px;color:#666666;letter-spacing:-0.184px;-webkit-text-stroke:0.2px #666666;">Jan 23</span>
<span class="t tick" style="left:1348.71px;top:1090px;font-size:16px;line-height:16px;color:#666666;letter-spacing:-0.051px;-webkit-text-stroke:0.2px #666666;">Jan 28</span>
<span class="t tick" style="left:1450.94px;top:1090px;font-size:16px;line-height:16px;color:#666666;letter-spacing:-0.167px;-webkit-text-stroke:0.2px #666666;">Feb 2</span>
<span class="t tick" style="left:1549.65px;top:1090px;font-size:16px;line-height:16px;color:#666666;letter-spacing:-0.084px;-webkit-text-stroke:0.2px #666666;">Feb 7</span>
<span class="t tick" style="left:1644.01px;top:1090px;font-size:16px;line-height:16px;color:#666666;letter-spacing:-0.223px;-webkit-text-stroke:0.2px #666666;">Feb 12</span>
<span class="t tick" style="left:1744.63px;top:1090px;font-size:16px;line-height:16px;color:#666666;letter-spacing:-0.214px;-webkit-text-stroke:0.2px #666666;">Feb 17</span>
<div class="lg" style="left:1328.4px;top:1116.4px;background:#e76e50"></div>
<span class="t" style="left:1348.10px;top:1115px;font-size:16px;line-height:16px;color:#8a919e;letter-spacing:0.116px;-webkit-text-stroke:0.2px #8a919e;">o1-mini</span>
<div class="lg" style="left:1406.8px;top:1116.4px;background:#2a9d90"></div>
<span class="t" style="left:1425.40px;top:1115px;font-size:16px;line-height:16px;color:#8a919e;letter-spacing:0.201px;-webkit-text-stroke:0.2px #8a919e;">gemini-2.0-flash-exp</span>
<div class="card" style="left:1812.25px;top:690.60px;width:698.90px;height:465.8px"></div>
<span class="t" style="left:1830.20px;top:720px;font-size:18.67px;line-height:18.67px;color:#ffffff;font-weight:bold;letter-spacing:-0.117px;">TPOT</span>
<span class="t" style="left:2383.20px;top:721px;font-size:18.67px;line-height:18.67px;color:#ffffff;font-weight:bold;letter-spacing:0.378px;">0.01 s/token</span>
<span class="t" style="left:1830.20px;top:753px;font-size:17.33px;line-height:17.33px;color:#8a919e;letter-spacing:-0.214px;-webkit-text-stroke:0.2px #8a919e;">Time per output token</span>
<div class="box" style="left:1891.3px;top:707.5px;width:127.2px;height:38.2px;border-radius:8px"></div>
<span class="t" style="left:1908.90px;top:720px;font-size:17.33px;line-height:17.33px;color:#e8e8e8;letter-spacing:-0.665px;-webkit-text-stroke:0.2px #e8e8e8;">Average</span>
<svg class="ic" style="left:0;top:0" width="2560" height="1440" fill="none" stroke="#8a93a5" stroke-width="2.2" stroke-linecap="round" stroke-linejoin="round"><path d="M1986.10 726.25 L1990.65 730.65 L1995.20 726.25"/></svg>
<svg class="ic" style="left:0;top:0" width="2560" height="1440"><line x1="1886.10" y1="811.25" x2="2497.60" y2="811.25" stroke="#1f1f1f" stroke-width="2"/><line x1="1877.90" y1="811.25" x2="1886.10" y2="811.25" stroke="#3d3d3d" stroke-width="2"/><line x1="1886.10" y1="876.10" x2="2497.60" y2="876.10" stroke="#1f1f1f" stroke-width="2"/><line x1="1877.90" y1="876.10" x2="1886.10" y2="876.10" stroke="#3d3d3d" stroke-width="2"/><line x1="1886.10" y1="940.95" x2="2497.60" y2="940.95" stroke="#1f1f1f" stroke-width="2"/><line x1="1877.90" y1="940.95" x2="1886.10" y2="940.95" stroke="#3d3d3d" stroke-width="2"/><line x1="1886.10" y1="1005.80" x2="2497.60" y2="1005.80" stroke="#1f1f1f" stroke-width="2"/><line x1="1877.90" y1="1005.80" x2="1886.10" y2="1005.80" stroke="#3d3d3d" stroke-width="2"/><line x1="1886.10" y1="1070.65" x2="2497.60" y2="1070.65" stroke="#1f1f1f" stroke-width="2"/><line x1="1877.90" y1="1070.65" x2="1886.10" y2="1070.65" stroke="#3d3d3d" stroke-width="2"/><line x1="1886.00" y1="810.25" x2="1886.00" y2="1071.65" stroke="#3d3d3d" stroke-width="2.1"/><path d="M1886.10 1070.55 L2477.87 1070.55 C2484.45 1070.55 2491.02 940.85 2497.60 811.15" fill="none" stroke="#e76e50" stroke-width="2.67" stroke-linejoin="round"/><path d="M1886.10 1070.55 L2477.87 1070.55 C2484.45 1070.55 2491.02 940.85 2497.60 811.15" fill="none" stroke="#2a9d90" stroke-width="2.67" stroke-linejoin="round"/></svg>
<span class="t tick" style="left:1843.76px;top:810px;font-size:16px;line-height:16px;color:#666666;-webkit-text-stroke:0.2px #666666;">0.01</span>
<span class="t tick" style="left:1825.96px;top:869px;font-size:16px;line-height:16px;color:#666666;-webkit-text-stroke:0.2px #666666;">0.0075</span>
<span class="t tick" style="left:1834.86px;top:934px;font-size:16px;line-height:16px;color:#666666;-webkit-text-stroke:0.2px #666666;">0.005</span>
<span class="t tick" style="left:1825.96px;top:999px;font-size:16px;line-height:16px;color:#666666;-webkit-text-stroke:0.2px #666666;">0.0025</span>
<span class="t tick" style="left:1865.66px;top:1064px;font-size:16px;line-height:16px;color:#666666;-webkit-text-stroke:0.2px #666666;">0</span>
<span class="t tick" style="left:1862.70px;top:1090px;font-size:16px;line-height:16px;color:#666666;letter-spacing:-0.082px;-webkit-text-stroke:0.2px #666666;">Jan 18</span>
<span class="t tick" style="left:1961.28px;top:1090px;font-size:16px;line-height:16px;color:#666666;letter-spacing:-0.186px;-webkit-text-stroke:0.2px #666666;">Jan 23</span>
<span class="t tick" style="left:2059.91px;top:1090px;font-size:16px;line-height:16px;color:#666666;letter-spacing:-0.187px;-webkit-text-stroke:0.2px #666666;">Jan 28</span>
<span class="t tick" style="left:2161.49px;top:1090px;font-size:16px;line-height:16px;color:#666666;letter-spacing:0.006px;-webkit-text-stroke:0.2px #666666;">Feb 2</span>
<span class="t tick" style="left:2260.22px;top:1090px;font-size:16px;line-height:16px;color:#666666;letter-spacing:-0.404px;-webkit-text-stroke:0.2px #666666;">Feb 7</span>
<span class="t tick" style="left:2354.60px;top:1090px;font-size:16px;line-height:16px;color:#666666;letter-spacing:-0.217px;-webkit-text-stroke:0.2px #666666;">Feb 12</span>
<span class="t tick" style="left:2455.22px;top:1090px;font-size:16px;line-height:16px;color:#666666;letter-spacing:-0.208px;-webkit-text-stroke:0.2px #666666;">Feb 17</span>
<div class="lg" style="left:2038.7px;top:1116.4px;background:#e76e50"></div>
<span class="t" style="left:2057.73px;top:1115px;font-size:16px;line-height:16px;color:#8a919e;letter-spacing:0.241px;-webkit-text-stroke:0.2px #8a919e;">o1-mini</span>
<div class="lg" style="left:2117.1px;top:1116.4px;background:#2a9d90"></div>
<span class="t" style="left:2135.94px;top:1115px;font-size:16px;line-height:16px;color:#8a919e;letter-spacing:0.203px;-webkit-text-stroke:0.2px #8a919e;">gemini-2.0-flash-exp</span>
<div class="card" style="left:391.55px;top:1167.35px;width:698.90px;height:465.8px"></div>
<span class="t" style="left:408.50px;top:1197px;font-size:18.67px;line-height:18.67px;color:#ffffff;font-weight:bold;letter-spacing:0.364px;">No of Errors</span>
<span class="t" style="left:979.00px;top:1198px;font-size:18.67px;line-height:18.67px;color:#ffffff;font-weight:bold;letter-spacing:0.163px;">0 requests</span>
<span class="t" style="left:408.50px;top:1230px;font-size:17.33px;line-height:17.33px;color:#8a919e;letter-spacing:-0.271px;-webkit-text-stroke:0.2px #8a919e;">Number of requests that resulted in an error</span>
<svg class="ic" style="left:0;top:0" width="2560" height="1440"><line x1="465.50" y1="1288.00" x2="1077.00" y2="1288.00" stroke="#1f1f1f" stroke-width="2"/><line x1="457.30" y1="1288.00" x2="465.50" y2="1288.00" stroke="#3d3d3d" stroke-width="2"/><line x1="465.50" y1="1352.85" x2="1077.00" y2="1352.85" stroke="#1f1f1f" stroke-width="2"/><line x1="457.30" y1="1352.85" x2="465.50" y2="1352.85" stroke="#3d3d3d" stroke-width="2"/><line x1="465.50" y1="1417.70" x2="1077.00" y2="1417.70" stroke="#1f1f1f" stroke-width="2"/><line x1="457.30" y1="1417.70" x2="465.50" y2="1417.70" stroke="#3d3d3d" stroke-width="2"/><line x1="465.50" y1="1482.55" x2="1077.00" y2="1482.55" stroke="#1f1f1f" stroke-width="2"/><line x1="457.30" y1="1482.55" x2="465.50" y2="1482.55" stroke="#3d3d3d" stroke-width="2"/><line x1="465.50" y1="1547.40" x2="1077.00" y2="1547.40" stroke="#1f1f1f" stroke-width="2"/><line x1="457.30" y1="1547.40" x2="465.50" y2="1547.40" stroke="#3d3d3d" stroke-width="2"/><line x1="465.40" y1="1287.00" x2="465.40" y2="1548.40" stroke="#3d3d3d" stroke-width="2.1"/><path d="M465.50 1547.30 L1057.27 1547.30 C1063.85 1547.30 1070.42 1547.30 1077.00 1547.30" fill="none" stroke="#e76e50" stroke-width="2.67" stroke-linejoin="round"/><path d="M465.50 1547.30 L1057.27 1547.30 C1063.85 1547.30 1070.42 1547.30 1077.00 1547.30" fill="none" stroke="#2a9d90" stroke-width="2.67" stroke-linejoin="round"/></svg>
<span class="t tick" style="left:445.28px;top:1286px;font-size:16px;line-height:16px;color:#666666;-webkit-text-stroke:0.2px #666666;">4</span>
<span class="t tick" style="left:444.96px;top:1346px;font-size:16px;line-height:16px;color:#666666;-webkit-text-stroke:0.2px #666666;">3</span>
<span class="t tick" style="left:444.97px;top:1411px;font-size:16px;line-height:16px;color:#666666;-webkit-text-stroke:0.2px #666666;">2</span>
<span class="t tick" style="left:444.40px;top:1476px;font-size:16px;line-height:16px;color:#666666;-webkit-text-stroke:0.2px #666666;">1</span>
<span class="t tick" style="left:444.40px;top:1541px;font-size:16px;line-height:16px;color:#666666;-webkit-text-stroke:0.2px #666666;">0</span>
<span class="t tick" style="left:442.10px;top:1566px;font-size:16px;line-height:16px;color:#666666;letter-spacing:-0.348px;-webkit-text-stroke:0.2px #666666;">Jan 18</span>
<span class="t tick" style="left:540.68px;top:1566px;font-size:16px;line-height:16px;color:#666666;letter-spacing:-0.328px;-webkit-text-stroke:0.2px #666666;">Jan 23</span>
<span class="t tick" style="left:639.31px;top:1566px;font-size:16px;line-height:16px;color:#666666;letter-spacing:-0.328px;-webkit-text-stroke:0.2px #666666;">Jan 28</span>
<span class="t tick" style="left:740.89px;top:1566px;font-size:16px;line-height:16px;color:#666666;letter-spacing:-0.354px;-webkit-text-stroke:0.2px #666666;">Feb 2</span>
<span class="t tick" style="left:839.62px;top:1566px;font-size:16px;line-height:16px;color:#666666;letter-spacing:-0.404px;-webkit-text-stroke:0.2px #666666;">Feb 7</span>
<span class="t tick" style="left:934.00px;top:1566px;font-size:16px;line-height:16px;color:#666666;letter-spacing:-0.403px;-webkit-text-stroke:0.2px #666666;">Feb 12</span>
<span class="t tick" style="left:1034.62px;top:1566px;font-size:16px;line-height:16px;color:#666666;letter-spacing:-0.403px;-webkit-text-stroke:0.2px #666666;">Feb 17</span>
<div class="lg" style="left:618.0px;top:1593.1px;background:#e76e50"></div>
<span class="t" style="left:637.70px;top:1592px;font-size:16px;line-height:16px;color:#8a919e;letter-spacing:0.116px;-webkit-text-stroke:0.2px #8a919e;">o1-mini</span>
<div class="lg" style="left:696.4px;top:1593.1px;background:#2a9d90"></div>
<span class="t" style="left:715.80px;top:1592px;font-size:16px;line-height:16px;color:#8a919e;letter-spacing:0.129px;-webkit-text-stroke:0.2px #8a919e;">gemini-2.0-flash-exp</span>
<div class="card" style="left:1101.25px;top:1167.35px;width:700.30px;height:465.8px"></div>
<span class="t" style="left:1118.20px;top:1197px;font-size:18.67px;line-height:18.67px;color:#ffffff;font-weight:bold;letter-spacing:0.259px;">Error Rate</span>
<span class="t" style="left:1730.70px;top:1198px;font-size:18.67px;line-height:18.67px;color:#ffffff;font-weight:bold;letter-spacing:0.090px;">0.00%</span>
<span class="t" style="left:1118.20px;top:1230px;font-size:17.33px;line-height:17.33px;color:#8a919e;letter-spacing:-0.333px;-webkit-text-stroke:0.2px #8a919e;">Percentage of requests that resulted in an error</span>
<svg class="ic" style="left:0;top:0" width="2560" height="1440"><line x1="1175.60" y1="1288.00" x2="1787.00" y2="1288.00" stroke="#1f1f1f" stroke-width="2"/><line x1="1167.40" y1="1288.00" x2="1175.60" y2="1288.00" stroke="#3d3d3d" stroke-width="2"/><line x1="1175.60" y1="1352.85" x2="1787.00" y2="1352.85" stroke="#1f1f1f" stroke-width="2"/><line x1="1167.40" y1="1352.85" x2="1175.60" y2="1352.85" stroke="#3d3d3d" stroke-width="2"/><line x1="1175.60" y1="1417.70" x2="1787.00" y2="1417.70" stroke="#1f1f1f" stroke-width="2"/><line x1="1167.40" y1="1417.70" x2="1175.60" y2="1417.70" stroke="#3d3d3d" stroke-width="2"/><line x1="1175.60" y1="1482.55" x2="1787.00" y2="1482.55" stroke="#1f1f1f" stroke-width="2"/><line x1="1167.40" y1="1482.55" x2="1175.60" y2="1482.55" stroke="#3d3d3d" stroke-width="2"/><line x1="1175.60" y1="1547.40" x2="1787.00" y2="1547.40" stroke="#1f1f1f" stroke-width="2"/><line x1="1167.40" y1="1547.40" x2="1175.60" y2="1547.40" stroke="#3d3d3d" stroke-width="2"/><line x1="1175.50" y1="1287.00" x2="1175.50" y2="1548.40" stroke="#3d3d3d" stroke-width="2.1"/><path d="M1175.60 1547.30 L1767.28 1547.30 C1773.85 1547.30 1780.43 1547.30 1787.00 1547.30" fill="none" stroke="#e76e50" stroke-width="2.67" stroke-linejoin="round"/><path d="M1175.60 1547.30 L1767.28 1547.30 C1773.85 1547.30 1780.43 1547.30 1787.00 1547.30" fill="none" stroke="#2a9d90" stroke-width="2.67" stroke-linejoin="round"/></svg>
<span class="t tick" style="left:1154.82px;top:1286px;font-size:16px;line-height:16px;color:#666666;-webkit-text-stroke:0.2px #666666;">4</span>
<span class="t tick" style="left:1155.52px;top:1346px;font-size:16px;line-height:16px;color:#666666;-webkit-text-stroke:0.2px #666666;">3</span>
<span class="t tick" style="left:1155.53px;top:1411px;font-size:16px;line-height:16px;color:#666666;-webkit-text-stroke:0.2px #666666;">2</span>
<span class="t tick" style="left:1154.50px;top:1476px;font-size:16px;line-height:16px;color:#666666;-webkit-text-stroke:0.2px #666666;">1</span>
<span class="t tick" style="left:1154.50px;top:1541px;font-size:16px;line-height:16px;color:#666666;-webkit-text-stroke:0.2px #666666;">0</span>
<span class="t tick" style="left:1152.20px;top:1566px;font-size:16px;line-height:16px;color:#666666;letter-spacing:-0.348px;-webkit-text-stroke:0.2px #666666;">Jan 18</span>
<span class="t tick" style="left:1250.76px;top:1566px;font-size:16px;line-height:16px;color:#666666;letter-spacing:-0.328px;-webkit-text-stroke:0.2px #666666;">Jan 23</span>
<span class="t tick" style="left:1349.38px;top:1566px;font-size:16px;line-height:16px;color:#666666;letter-spacing:-0.328px;-webkit-text-stroke:0.2px #666666;">Jan 28</span>
<span class="t tick" style="left:1450.94px;top:1566px;font-size:16px;line-height:16px;color:#666666;letter-spacing:-0.354px;-webkit-text-stroke:0.2px #666666;">Feb 2</span>
<span class="t tick" style="left:1549.65px;top:1566px;font-size:16px;line-height:16px;color:#666666;letter-spacing:-0.404px;-webkit-text-stroke:0.2px #666666;">Feb 7</span>
<span class="t tick" style="left:1644.01px;top:1566px;font-size:16px;line-height:16px;color:#666666;letter-spacing:-0.403px;-webkit-text-stroke:0.2px #666666;">Feb 12</span>
<span class="t tick" style="left:1744.63px;top:1566px;font-size:16px;line-height:16px;color:#666666;letter-spacing:-0.403px;-webkit-text-stroke:0.2px #666666;">Feb 17</span>
<div class="lg" style="left:1328.4px;top:1593.1px;background:#e76e50"></div>
<span class="t" style="left:1348.10px;top:1592px;font-size:16px;line-height:16px;color:#8a919e;letter-spacing:0.116px;-webkit-text-stroke:0.2px #8a919e;">o1-mini</span>
<div class="lg" style="left:1406.8px;top:1593.1px;background:#2a9d90"></div>
<span class="t" style="left:1426.20px;top:1592px;font-size:16px;line-height:16px;color:#8a919e;letter-spacing:0.129px;-webkit-text-stroke:0.2px #8a919e;">gemini-2.0-flash-exp</span></main>
</body></html>
